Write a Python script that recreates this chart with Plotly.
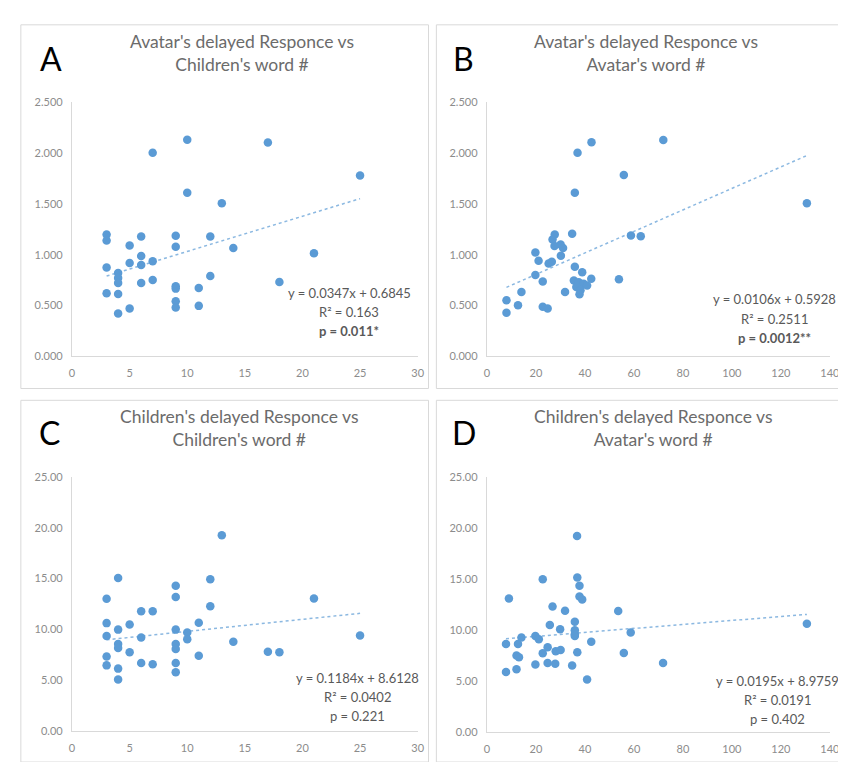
import plotly.graph_objects as go

# ---------------- data ----------------
a_x = [3, 3, 3, 3, 4, 4, 4, 4, 4, 5, 5, 5, 6, 6, 6, 6, 7, 7, 7,
       9, 9, 9, 9, 9, 9, 10, 10, 11, 11, 12, 12, 13, 14, 17, 18, 21, 25]
a_y = [1.198, 1.14, 0.874, 0.62, 0.82, 0.77, 0.72, 0.612, 0.42,
       1.09, 0.918, 0.47, 1.18, 0.987, 0.898, 0.72, 2.005, 0.936, 0.75,
       1.187, 1.077, 0.688, 0.665, 0.54, 0.478, 2.132, 1.61, 0.672, 0.495,
       1.18, 0.79, 1.506, 1.065, 2.105, 0.73, 1.014, 1.78]

b_x = [8, 8, 12.7, 14.1, 19.8, 21.1, 19.8, 22.8, 22.8, 24.8, 25.2, 26.5,
       26.8, 27.7, 27.6, 30.1, 31.1, 30.2, 31.9, 34.8, 35.9, 37, 42.7,
       35.9, 38.9, 35.5, 37.5, 39.5, 42.6, 36.5, 38.2, 40.9, 37.8,
       53.9, 55.9, 58.8, 62.8, 72, 130.6]
b_y = [0.551, 0.428, 0.502, 0.632, 1.02, 0.94, 0.80, 0.735, 0.486, 0.47,
       0.913, 0.93, 1.15, 1.199, 1.085, 1.10, 1.065, 0.988, 0.632, 1.205,
       1.61, 2.005, 2.108, 0.88, 0.826, 0.745, 0.729, 0.713, 0.762, 0.68,
       0.648, 0.697, 0.609, 0.758, 1.784, 1.188, 1.182, 2.131, 1.506]

c_x = [3, 3, 3, 3, 3, 4, 4, 4, 4, 4, 4, 5, 5, 6, 6, 6, 7, 7,
       9, 9, 9, 9, 9, 9, 9, 10, 10, 11, 11, 12, 12, 13, 14, 17, 18, 21, 25]
c_y = [13.0, 10.61, 9.35, 7.32, 6.45, 15.06, 9.97, 8.55, 8.16, 6.13, 5.06,
       10.48, 7.74, 11.77, 9.19, 6.68, 11.77, 6.55,
       14.29, 13.19, 9.97, 8.55, 8.06, 6.68, 5.77, 9.68, 9.03, 10.65, 7.39,
       14.94, 12.26, 19.26, 8.77, 7.8, 7.74, 13.03, 9.39]

d_x = [7.8, 7.8, 9, 12.1, 12.1, 13.1, 12.7, 14.1, 19.8, 21.2, 19.8, 22.8,
       22.8, 24.8, 24.8, 25.7, 26.8, 28.1, 30.1, 27.9, 29.9, 31.9, 34.8,
       35.9, 35.9, 35.9, 35.9, 36.8, 36.9, 36.9, 37.8, 37.8, 38.9, 40.9,
       42.6, 53.6, 55.9, 58.7, 71.9, 130.6]
d_y = [8.61, 5.88, 13.07, 6.13, 7.48, 7.33, 8.61, 9.25, 9.41, 9.09, 6.61,
       14.97, 7.71, 8.29, 6.75, 10.47, 12.3, 7.9, 8.03, 6.68, 10.06, 11.89,
       6.52, 10.8, 9.96, 9.57, 9.41, 19.22, 15.13, 7.81, 14.33, 13.27, 12.98,
       5.14, 8.83, 11.86, 7.74, 9.74, 6.75, 10.6]

panel_letters = ["A", "B", "C", "D"]
panel_titles = ["Avatar's delayed Responce vs<br>Children's word #",
                "Avatar's delayed Responce vs<br>Avatar's word #",
                "Children's delayed Responce vs<br>Children's word #",
                "Children's delayed Responce vs<br>Avatar's word #"]
slopes = [0.0347, 0.0106, 0.1184, 0.0195]
intercepts = [0.6845, 0.5928, 8.6128, 8.9759]
eq_texts = ["y = 0.0347x + 0.6845", "y = 0.0106x + 0.5928",
            "y = 0.1184x + 8.6128", "y = 0.0195x + 8.9759"]
r2_texts = ["R² = 0.163", "R² = 0.2511", "R² = 0.0402", "R² = 0.0191"]
p_texts = ["<b>p = 0.011*</b>", "<b>p = 0.0012**</b>", "p = 0.221", "p = 0.402"]
x_ranges = [[0, 30], [0, 140], [0, 30], [0, 140]]
x_dticks = [5, 20, 5, 20]
y_ranges = [[0, 2.5], [0, 2.5], [0, 25], [0, 25]]
y_dticks = [0.5, 0.5, 5, 5]
y_formats = [".3f", ".3f", ".2f", ".2f"]

# ---------------- layout geometry ----------------
W, H = 846, 762
FONT = "Lato, Carlito, Calibri, sans-serif"
BLUE = "#5B9BD5"
GRAY = "#595959"

def px(x):
    return x / W

def py(y):
    return 1 - y / H

# plot areas (left, right, top, bottom) in pixels
areas = [(62, 413, 89, 347), (483.3, 831.7, 89, 347),
         (62, 413, 470, 728.3), (483.3, 831.7, 470, 729.3)]
boxes = [(10, 10, 424, 380), (432, 10, 843, 380),
         (10, 392, 424, 760), (432, 392, 843, 760)]
letter_pos = [(41, 44), (460, 44), (39, 425), (460, 425)]
title_pos = [(235, 39), (645, 39), (232, 420), (653, 420)]
eq_pos = [(343.5, 282.7), (775.5, 289.3), (351.7, 674.3), (778, 677.7)]
line_gap = 19.5

xs = [a_x, b_x, c_x, d_x]
ys = [a_y, b_y, c_y, d_y]

fig = go.Figure()
layout = dict(width=W, height=H, margin=dict(l=0, r=0, t=0, b=0),
              paper_bgcolor="white", plot_bgcolor="white", showlegend=False,
              font=dict(family=FONT, color=GRAY))
annotations = []
shapes = []

for i in range(4):
    sfx = "" if i == 0 else str(i + 1)
    xa, ya = "x" + sfx, "y" + sfx
    fig.add_trace(go.Scatter(x=xs[i], y=ys[i], mode="markers", xaxis=xa, yaxis=ya,
                             marker=dict(color=BLUE, size=8.5, line=dict(width=0)),
                             hoverinfo="x+y"))
    x0, x1 = min(xs[i]), max(xs[i])
    fig.add_trace(go.Scatter(x=[x0, x1],
                             y=[slopes[i] * x0 + intercepts[i], slopes[i] * x1 + intercepts[i]],
                             mode="lines", xaxis=xa, yaxis=ya,
                             line=dict(color=BLUE, width=1.5, dash="dot"),
                             opacity=0.7, hoverinfo="skip"))
    l, r, t, b = areas[i]
    layout["xaxis" + sfx] = dict(domain=[px(l), px(r)], anchor=ya, range=x_ranges[i],
                                 dtick=x_dticks[i], tick0=0, showgrid=False, zeroline=False,
                                 showline=True, linecolor="#D9D9D9", linewidth=1.2,
                                 ticks="", ticklabelstandoff=7,
                                 tickfont=dict(size=11, color="#8C8C8C", family=FONT))
    layout["yaxis" + sfx] = dict(domain=[py(b), py(t)], anchor=xa, range=y_ranges[i],
                                 dtick=y_dticks[i], tick0=0, tickformat=y_formats[i],
                                 showgrid=False, zeroline=False,
                                 showline=True, linecolor="#D9D9D9", linewidth=1.2,
                                 ticks="", ticklabelstandoff=6,
                                 tickfont=dict(size=11, color="#8C8C8C", family=FONT))
    bx0, by0, bx1, by1 = boxes[i]
    shapes.append(dict(type="rect", xref="paper", yref="paper",
                       x0=px(bx0), x1=px(bx1), y0=py(by1), y1=py(by0),
                       line=dict(color="#D9D9D9", width=1), layer="below"))
    lx, ly = letter_pos[i]
    annotations.append(dict(text=panel_letters[i], x=px(lx), y=py(ly), xref="paper",
                            yref="paper", showarrow=False, xanchor="center",
                            yanchor="middle",
                            font=dict(size=32, color="black", family="Lato, sans-serif")))
    tx, ty = title_pos[i]
    annotations.append(dict(text=panel_titles[i], x=px(tx), y=py(ty), xref="paper",
                            yref="paper", showarrow=False, xanchor="center",
                            yanchor="middle", align="center",
                            font=dict(size=17.5, color="#6B6B6B", family=FONT)))
    ex, ey = eq_pos[i]
    for k, txt in enumerate([eq_texts[i], r2_texts[i], p_texts[i]]):
        annotations.append(dict(text=txt, x=px(ex), y=py(ey + k * line_gap), xref="paper",
                                yref="paper", showarrow=False, xanchor="center",
                                yanchor="middle",
                                font=dict(size=13, color=GRAY, family=FONT)))

layout["annotations"] = annotations
layout["shapes"] = shapes
fig.update_layout(**layout)
fig.write_html("out.html")
